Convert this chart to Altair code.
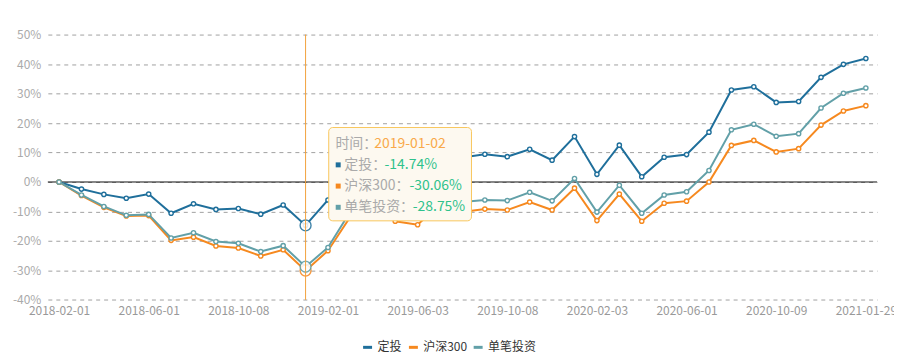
import altair as alt
import pandas as pd

FONT = "Noto Sans CJK SC"

dates = [
    "2018-02-01", "2018-03-01", "2018-04-02", "2018-05-02", "2018-06-01", "2018-07-02",
    "2018-08-01", "2018-09-03", "2018-10-08", "2018-11-01", "2018-12-03", "2019-01-02",
    "2019-02-01", "2019-03-01", "2019-04-01", "2019-05-06", "2019-06-03", "2019-07-01",
    "2019-08-01", "2019-09-02", "2019-10-08", "2019-11-01", "2019-12-02", "2020-01-02",
    "2020-02-03", "2020-03-02", "2020-04-01", "2020-05-06", "2020-06-01", "2020-07-01",
    "2020-08-03", "2020-09-01", "2020-10-09", "2020-11-02", "2020-12-01", "2021-01-04",
    "2021-01-29",
]

# values in percent
dca = [0, -2.4, -4.2, -5.5, -4.1, -10.6, -7.4, -9.3, -9.0, -10.9, -7.8, -14.74,
       -6.1, 7.0, 12.5, 4.5, 3.2, 11.0, 8.3, 9.4, 8.6, 11.1, 7.4, 15.4,
       2.6, 12.5, 1.8, 8.4, 9.3, 16.9, 31.2, 32.3, 27.0, 27.3, 35.5, 39.9, 41.9]
hs300 = [0, -4.6, -8.6, -11.5, -11.4, -19.8, -18.7, -21.7, -22.4, -25.1, -23.0, -30.06,
         -23.3, -11.8, -6.5, -13.3, -14.5, -7.5, -10.2, -9.2, -9.5, -6.8, -9.5, -2.1,
         -13.1, -4.1, -13.3, -7.2, -6.5, 0.0, 12.4, 14.1, 10.2, 11.3, 19.3, 24.1, 25.9]
lump = [0, -4.4, -8.3, -11.3, -11.0, -19.0, -17.2, -20.2, -20.8, -23.6, -21.6, -28.75,
        -22.2, -10.0, -3.9, -10.7, -11.9, -4.5, -6.8, -6.1, -6.3, -3.5, -6.4, 1.2,
        -10.2, -1.1, -10.6, -4.4, -3.3, 3.9, 17.7, 19.6, 15.5, 16.4, 25.1, 30.1, 31.9]

series_names = ["定投", "沪深300", "单笔投资"]
series_values = [dca, hs300, lump]
colors = ["#1f6f9b", "#f6891f", "#62a0a8"]
y_ticks = [-40, -30, -20, -10, 0, 10, 20, 30, 40, 50]
x_label_dates = dates[::4]
hover_index = 11

rows = []
for name, vals in zip(series_names, series_values):
    for d, v in zip(dates, vals):
        rows.append({"date": d, "series": name, "value": v})
df = pd.DataFrame(rows)

x_enc = alt.X(
    "date:O",
    scale=alt.Scale(type="point", padding=0.5, domain=dates),
    axis=alt.Axis(values=x_label_dates, title=None, labelAngle=0, domain=False, ticks=False,
                  grid=False, labelColor="#999999", labelFontSize=12, labelPadding=6,
                  labelFont=FONT),
)
y_enc = alt.Y(
    "value:Q",
    scale=alt.Scale(domain=[-40, 50], nice=False, zero=False),
    axis=alt.Axis(values=y_ticks, title=None, domain=False, ticks=False, grid=True,
                  gridDash=[4, 4], gridColor="#a0a0a0", labelExpr="datum.value + '%'",
                  labelColor="#aaaaaa", labelFontSize=12, labelPadding=7, labelFont=FONT),
)
color_enc = alt.Color(
    "series:N",
    scale=alt.Scale(domain=series_names, range=colors),
    legend=alt.Legend(title=None, orient="none", direction="horizontal", legendX=315,
                      legendY=308, symbolType="stroke", symbolSize=81, symbolStrokeWidth=3,
                      labelFontSize=12, labelColor="#333333", labelOffset=4,
                      columnPadding=0, labelFont=FONT),
)

layers = []

zero_df = pd.DataFrame({"value": [0]})
layers.append(alt.Chart(zero_df).mark_rule(color="#111111", strokeWidth=1).encode(y=y_enc))

for name in series_names:
    sub = df[df["series"] == name]
    base = alt.Chart(sub)
    layers.append(base.mark_line(strokeWidth=2).encode(x=x_enc, y=y_enc, color=color_enc))
    layers.append(base.mark_point(filled=False, fill="white", fillOpacity=1, size=18,
                                  strokeWidth=1.4, opacity=1)
                  .encode(x=x_enc, y=y_enc, color=color_enc))

hover_df = df[df["date"] == dates[hover_index]]
for name in series_names:
    layers.append(alt.Chart(hover_df[hover_df["series"] == name])
                  .mark_point(filled=False, fill="white", fillOpacity=1, size=120,
                              strokeWidth=1.4, opacity=0.85)
                  .encode(x=x_enc, y=y_enc, color=color_enc))

pointer_df = pd.DataFrame({"date": [dates[hover_index]]})
layers.append(alt.Chart(pointer_df).mark_rule(color="#f2a13c", strokeWidth=1).encode(x=x_enc))

# tooltip box
one = pd.DataFrame({"k": [0]})
layers.append(alt.Chart(one).mark_rect(fill="#fdf9f0", stroke="#f8c75e", strokeWidth=1,
                                        cornerRadius=4)
              .encode(x=alt.value(282), x2=alt.value(425.3), y=alt.value(93.3),
                      y2=alt.value(187)))

def txt(s, x, y, color):
    return (alt.Chart(pd.DataFrame({"t": [s]}))
            .mark_text(align="left", baseline="middle", fontSize=14, color=color, font=FONT)
            .encode(x=alt.value(x), y=alt.value(y), text="t:N"))

row_y = [109.5, 130.8, 152.1, 173.4]
layers.append(txt("时间：", 288.7, row_y[0], "#aaaaaa"))
layers.append(txt(dates[hover_index], 327.7, row_y[0], "#f9a94a"))
value_x = [338, 363, 366.3]
for i, (name, vals, col) in enumerate(zip(series_names, series_values, colors)):
    yy = row_y[i + 1]
    layers.append(alt.Chart(one).mark_square(size=25, color=col, opacity=1)
                  .encode(x=alt.value(291.5), y=alt.value(yy)))
    layers.append(txt(name + "：", 297.7, yy, "#aaaaaa"))
    layers.append(txt(f"{vals[hover_index]:.2f}%", value_x[i], yy, "#2fc28c"))

chart = (alt.layer(*layers)
         .properties(width=832.5, height=266.4, autosize="none",
                     padding={"left": 40, "top": 26, "right": 17, "bottom": 54})
         .configure_view(stroke=None)
         .configure_axis(labelFont=FONT)
         .configure_legend(labelFont=FONT))

chart.save("out.html", embed_options={"renderer": "svg", "actions": False})
